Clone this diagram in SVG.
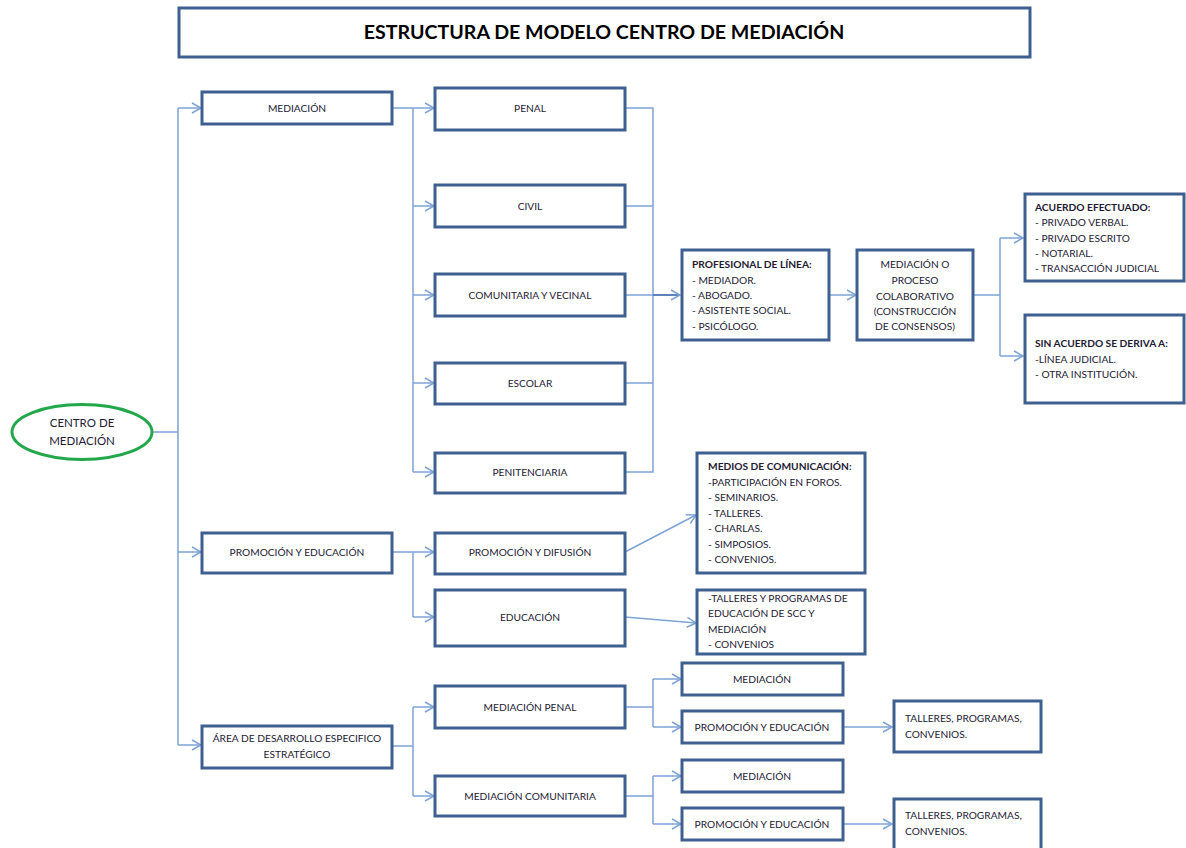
<svg xmlns="http://www.w3.org/2000/svg" width="1186" height="848" viewBox="0 0 1186 848">
<style>
.box{fill:#fff;stroke:#3e6090;stroke-width:3}
.t{font-family:Lato,"Liberation Sans",sans-serif;font-size:10.2px;fill:#231a33}
.c{text-anchor:middle}
.b{font-weight:bold}
.con{fill:none;stroke:#7ea3d6;stroke-width:1.5}
.ttl{font-family:Lato,"Liberation Sans",sans-serif;font-size:19.6px;font-weight:bold;fill:#000;text-anchor:middle}
</style>
<defs>
<marker id="ar" markerUnits="userSpaceOnUse" markerWidth="12" markerHeight="12" viewBox="0 -6 10 12" refX="9" refY="0" orient="auto">
<path d="M0,-5 L9,0 L0,5" fill="none" stroke="#7ea3d6" stroke-width="1.5"/>
</marker>
</defs>
<rect width="1186" height="848" fill="#fff"/>
<g id="connectors" class="con">
<path d="M153,432 H178 M178,108 V745"/>
<path d="M178,108 H201" marker-end="url(#ar)"/>
<path d="M178,552 H201" marker-end="url(#ar)"/>
<path d="M178,745 H201" marker-end="url(#ar)"/>
<path d="M392,108 H413 M413,108 V472"/>
<path d="M413,108 H434" marker-end="url(#ar)"/>
<path d="M413,206 H434" marker-end="url(#ar)"/>
<path d="M413,295 H434" marker-end="url(#ar)"/>
<path d="M413,383 H434" marker-end="url(#ar)"/>
<path d="M413,472 H434" marker-end="url(#ar)"/>
<path d="M625,108 H653 V472 H625 M625,206 H653 M625,383 H653 M625,295 H653"/>
<path d="M653,295 H680" marker-end="url(#ar)" style="stroke:#5b82bd;stroke-width:2"/>
<path d="M829,295 H856" marker-end="url(#ar)"/>
<path d="M973,295 H1000 M1000,238 V356"/>
<path d="M1000,238 H1023" marker-end="url(#ar)"/>
<path d="M1000,356 H1023" marker-end="url(#ar)"/>
<path d="M392,552 H413 M413,552 V617"/>
<path d="M413,552 H434" marker-end="url(#ar)"/>
<path d="M413,617 H434" marker-end="url(#ar)"/>
<path d="M625,552 L696,515" marker-end="url(#ar)"/>
<path d="M625,617 L696,623" marker-end="url(#ar)"/>
<path d="M392,746 H413 M413,707 V796"/>
<path d="M413,707 H434" marker-end="url(#ar)"/>
<path d="M413,796 H434" marker-end="url(#ar)"/>
<path d="M625,707 H653 M653,679 V727"/>
<path d="M653,679 H681" marker-end="url(#ar)"/>
<path d="M653,727 H681" marker-end="url(#ar)"/>
<path d="M625,796 H653 M653,776 V824"/>
<path d="M653,776 H681" marker-end="url(#ar)"/>
<path d="M653,824 H681" marker-end="url(#ar)"/>
<path d="M843,727 H892" marker-end="url(#ar)"/>
<path d="M843,824 H892" marker-end="url(#ar)"/>
</g>
<g id="title"><rect class="box" x="179" y="8" width="851" height="49"/><text class="ttl" x="604" y="39">ESTRUCTURA DE MODELO CENTRO DE MEDIACIÓN</text></g>
<g id="centro"><ellipse cx="82" cy="432" rx="70" ry="27.5" fill="#fff" stroke="#22a84a" stroke-width="3"/><text class="t c" x="82" y="427" style="font-size:11.5px">CENTRO DE</text><text class="t c" x="82" y="445" style="font-size:11.5px">MEDIACIÓN</text></g>
<g id="mediacion"><rect class="box" x="202" y="92" width="190" height="32"/><text class="t c" x="297" y="112">MEDIACIÓN</text></g>
<g id="promocion"><rect class="box" x="202" y="533" width="190" height="40"/><text class="t c" x="297" y="556">PROMOCIÓN Y EDUCACIÓN</text></g>
<g id="area"><rect class="box" x="202" y="726" width="190" height="42"/><text class="t c" x="297" y="742">ÁREA DE DESARROLLO ESPECIFICO</text><text class="t c" x="297" y="758">ESTRATÉGICO</text></g>
<g id="penal"><rect class="box" x="435" y="88" width="190" height="42"/><text class="t c" x="530" y="112">PENAL</text></g>
<g id="civil"><rect class="box" x="435" y="185" width="190" height="42"/><text class="t c" x="530" y="210">CIVIL</text></g>
<g id="comunitaria"><rect class="box" x="435" y="274" width="190" height="42"/><text class="t c" x="530" y="299">COMUNITARIA Y VECINAL</text></g>
<g id="escolar"><rect class="box" x="435" y="363" width="190" height="41"/><text class="t c" x="530" y="387">ESCOLAR</text></g>
<g id="penitenciaria"><rect class="box" x="435" y="453" width="190" height="40"/><text class="t c" x="530" y="476">PENITENCIARIA</text></g>
<g id="profesional"><rect class="box" x="682" y="250" width="147" height="90"/>
<text class="t b" x="692" y="268">PROFESIONAL DE LÍNEA:</text>
<text class="t" x="692" y="284">- MEDIADOR.</text>
<text class="t" x="692" y="299">- ABOGADO.</text>
<text class="t" x="692" y="314">- ASISTENTE SOCIAL.</text>
<text class="t" x="692" y="330">- PSICÓLOGO.</text></g>
<g id="proceso"><rect class="box" x="857" y="250" width="116" height="90"/>
<text class="t c" x="915" y="268">MEDIACIÓN O</text>
<text class="t c" x="915" y="284">PROCESO</text>
<text class="t c" x="915" y="300">COLABORATIVO</text>
<text class="t c" x="915" y="315">(CONSTRUCCIÓN</text>
<text class="t c" x="915" y="330">DE CONSENSOS)</text></g>
<g id="acuerdo"><rect class="box" x="1025" y="194" width="159" height="87"/>
<text class="t b" x="1035" y="211">ACUERDO EFECTUADO:</text>
<text class="t" x="1035" y="226">- PRIVADO VERBAL.</text>
<text class="t" x="1035" y="242">- PRIVADO  ESCRITO</text>
<text class="t" x="1035" y="257">- NOTARIAL.</text>
<text class="t" x="1035" y="272">- TRANSACCIÓN JUDICIAL</text></g>
<g id="sinacuerdo"><rect class="box" x="1025" y="315" width="159" height="88"/>
<text class="t b" x="1035" y="347">SIN ACUERDO SE DERIVA A:</text>
<text class="t" x="1035" y="363">-LÍNEA JUDICIAL.</text>
<text class="t" x="1035" y="378">- OTRA INSTITUCIÓN.</text></g>
<g id="difusion"><rect class="box" x="435" y="533" width="190" height="41"/><text class="t c" x="530" y="556">PROMOCIÓN Y DIFUSIÓN</text></g>
<g id="educacion"><rect class="box" x="435" y="590" width="190" height="56"/><text class="t c" x="530" y="621">EDUCACIÓN</text></g>
<g id="medios"><rect class="box" x="697" y="453" width="168" height="120"/>
<text class="t b" x="708" y="470">MEDIOS DE COMUNICACIÓN:</text>
<text class="t" x="708" y="486">-PARTICIPACIÓN EN FOROS.</text>
<text class="t" x="708" y="501">- SEMINARIOS.</text>
<text class="t" x="708" y="517">- TALLERES.</text>
<text class="t" x="708" y="532">- CHARLAS.</text>
<text class="t" x="708" y="548">- SIMPOSIOS.</text>
<text class="t" x="708" y="563">- CONVENIOS.</text></g>
<g id="talleresEdu"><rect class="box" x="697" y="590" width="168" height="64"/>
<text class="t" x="708" y="602">-TALLERES Y PROGRAMAS DE</text>
<text class="t" x="708" y="617">EDUCACIÓN DE SCC Y</text>
<text class="t" x="708" y="633">MEDIACIÓN</text>
<text class="t" x="708" y="648">- CONVENIOS</text></g>
<g id="medPenal"><rect class="box" x="435" y="686" width="190" height="42"/><text class="t c" x="530" y="711">MEDIACIÓN PENAL</text></g>
<g id="medComunitaria"><rect class="box" x="435" y="776" width="190" height="40"/><text class="t c" x="530" y="800">MEDIACIÓN COMUNITARIA</text></g>
<g id="mp_mediacion"><rect class="box" x="682" y="663" width="161" height="32"/><text class="t c" x="762" y="683">MEDIACIÓN</text></g>
<g id="mp_promocion"><rect class="box" x="682" y="711" width="161" height="32"/><text class="t c" x="762" y="731">PROMOCIÓN Y EDUCACIÓN</text></g>
<g id="mp_talleres"><rect class="box" x="894" y="701" width="147" height="51"/>
<text class="t" x="905" y="722">TALLERES, PROGRAMAS,</text>
<text class="t" x="905" y="738">CONVENIOS.</text></g>
<g id="mc_mediacion"><rect class="box" x="682" y="760" width="161" height="32"/><text class="t c" x="762" y="780">MEDIACIÓN</text></g>
<g id="mc_promocion"><rect class="box" x="682" y="808" width="161" height="32"/><text class="t c" x="762" y="828">PROMOCIÓN Y EDUCACIÓN</text></g>
<g id="mc_talleres"><rect class="box" x="894" y="799" width="147" height="51"/>
<text class="t" x="905" y="819">TALLERES, PROGRAMAS,</text>
<text class="t" x="905" y="835">CONVENIOS.</text></g>
</svg>
